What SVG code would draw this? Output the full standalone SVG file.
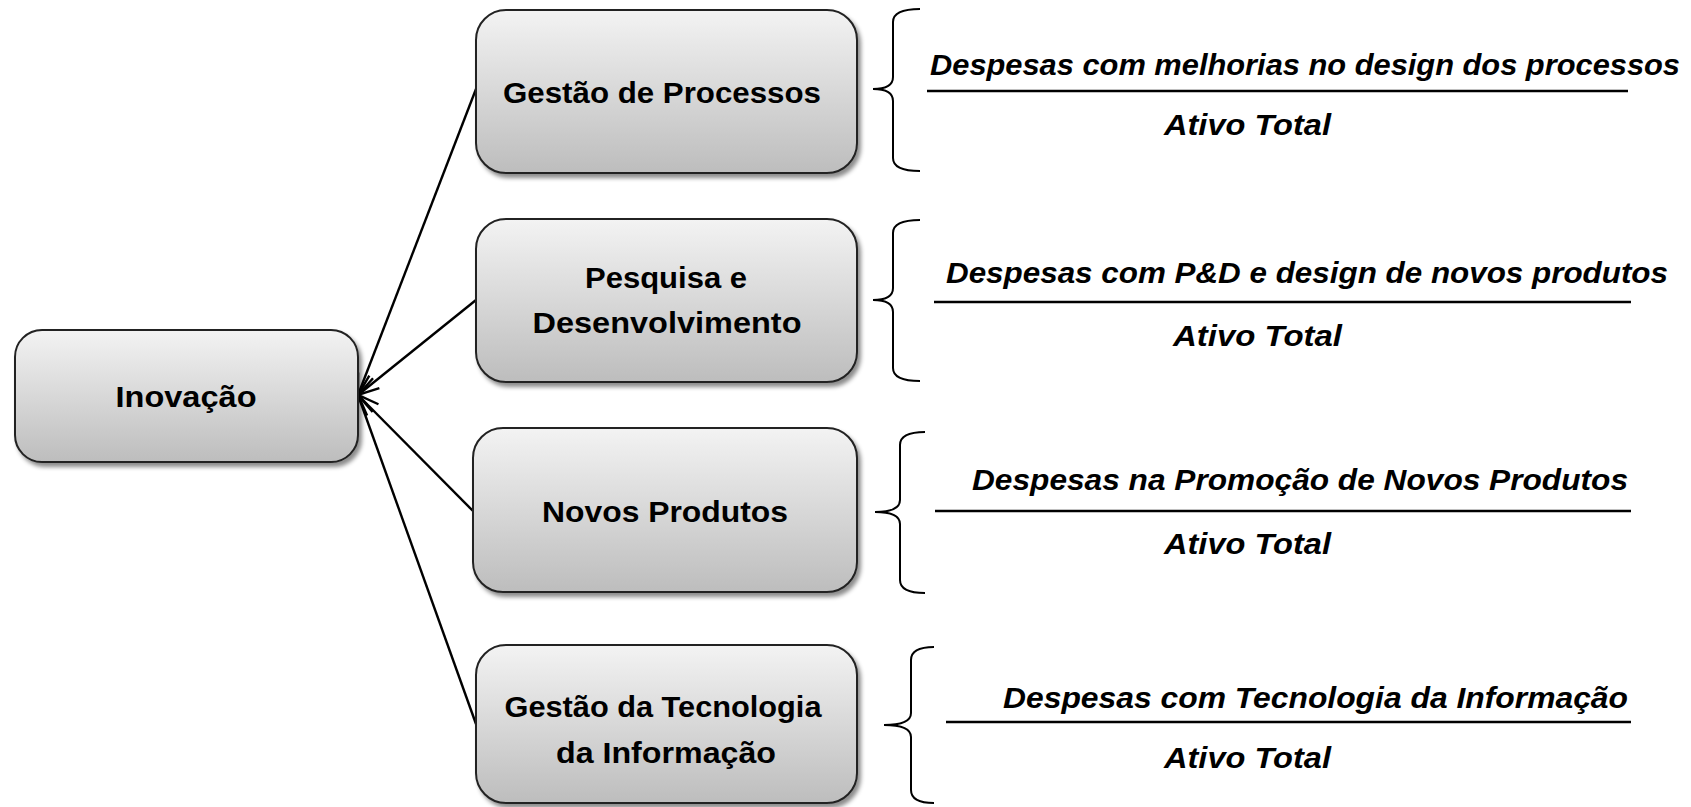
<svg xmlns="http://www.w3.org/2000/svg" width="1691" height="807" viewBox="0 0 1691 807">
<style>
.box{fill:url(#g);stroke:#222;stroke-width:2;filter:url(#sh)}
.lbl{font-family:"Liberation Sans",Arial,sans-serif;font-weight:bold;font-size:29px;fill:#000;text-anchor:middle}
.frac{font-family:"Liberation Sans",Arial,sans-serif;font-weight:bold;font-style:italic;font-size:30px;fill:#000}
.conn{stroke:#000;stroke-width:2.4;fill:none;marker-end:url(#arr)}
.brace{stroke:#000;stroke-width:2;fill:none}
.bar{stroke:#000;stroke-width:2.5}
</style>
<defs>
<linearGradient id="g" x1="0" y1="0" x2="0" y2="1">
<stop offset="0" stop-color="#f3f3f3"/>
<stop offset="1" stop-color="#bdbdbd"/>
</linearGradient>
<filter id="sh" x="-10%" y="-10%" width="120%" height="130%">
<feDropShadow dx="3" dy="4" stdDeviation="2" flood-color="#000" flood-opacity="0.45"/>
</filter>
<marker id="arr" markerUnits="userSpaceOnUse" markerWidth="26" markerHeight="22" refX="23" refY="11" orient="auto">
<path d="M2,3 L23,11 L2,19" fill="none" stroke="#000" stroke-width="2.4"/>
</marker>
</defs>
<rect width="1691" height="807" fill="#fff"/>
<g id="connectors">
<line class="conn" x1="476" y1="89" x2="358" y2="395"/>
<line class="conn" x1="476" y1="300" x2="358" y2="395"/>
<line class="conn" x1="473" y1="511" x2="358" y2="395"/>
<line class="conn" x1="476" y1="724" x2="358" y2="395"/>
</g>
<g id="inovacao">
<rect class="box" x="15" y="330" width="343" height="132" rx="27"/>
<text class="lbl" x="186" y="407" textLength="141" lengthAdjust="spacingAndGlyphs">Inovação</text>
</g>
<g id="gestao-processos">
<rect class="box" x="476" y="10" width="381" height="163" rx="30"/>
<text class="lbl" x="662" y="103" textLength="318" lengthAdjust="spacingAndGlyphs">Gestão de Processos</text>
</g>
<g id="pesquisa">
<rect class="box" x="476" y="219" width="381" height="163" rx="30"/>
<text class="lbl" x="666" y="288" textLength="162" lengthAdjust="spacingAndGlyphs">Pesquisa e</text>
<text class="lbl" x="667" y="333" textLength="269" lengthAdjust="spacingAndGlyphs">Desenvolvimento</text>
</g>
<g id="novos-produtos">
<rect class="box" x="473" y="428" width="384" height="164" rx="30"/>
<text class="lbl" x="665" y="522" textLength="246" lengthAdjust="spacingAndGlyphs">Novos Produtos</text>
</g>
<g id="gestao-ti">
<rect class="box" x="476" y="645" width="381" height="158" rx="30"/>
<text class="lbl" x="663" y="717" textLength="317" lengthAdjust="spacingAndGlyphs">Gestão da Tecnologia</text>
<text class="lbl" x="666" y="763" textLength="220" lengthAdjust="spacingAndGlyphs">da Informação</text>
</g>
<g id="formula-1">
<path class="brace" d="M920,9 Q893,9 893,22 L893,77 Q893,89 873,89 Q893,89 893,101 L893,158 Q893,171 920,171"/>
<text class="frac" x="930" y="75" textLength="750" lengthAdjust="spacingAndGlyphs">Despesas com melhorias no design dos processos</text>
<line class="bar" x1="927" y1="91" x2="1628" y2="91"/>
<text class="frac" x="1164" y="135" textLength="167" lengthAdjust="spacingAndGlyphs">Ativo Total</text>
</g>
<g id="formula-2">
<path class="brace" d="M920,220 Q893,220 893,233 L893,288 Q893,300 873,300 Q893,300 893,312 L893,368 Q893,381 920,381"/>
<text class="frac" x="946" y="283" textLength="722" lengthAdjust="spacingAndGlyphs">Despesas com P&amp;D e design de novos produtos</text>
<line class="bar" x1="934" y1="302" x2="1631" y2="302"/>
<text class="frac" x="1173" y="346" textLength="169" lengthAdjust="spacingAndGlyphs">Ativo Total</text>
</g>
<g id="formula-3">
<path class="brace" d="M925,432 Q900,432 900,445 L900,500 Q900,512 875,512 Q900,512 900,524 L900,580 Q900,593 925,593"/>
<text class="frac" x="972" y="490" textLength="656" lengthAdjust="spacingAndGlyphs">Despesas na Promoção de Novos Produtos</text>
<line class="bar" x1="935" y1="511" x2="1631" y2="511"/>
<text class="frac" x="1164" y="554" textLength="167" lengthAdjust="spacingAndGlyphs">Ativo Total</text>
</g>
<g id="formula-4">
<path class="brace" d="M934,647 Q911,647 911,660 L911,713 Q911,725 884,725 Q911,725 911,737 L911,790 Q911,803 934,803"/>
<text class="frac" x="1003" y="708" textLength="625" lengthAdjust="spacingAndGlyphs">Despesas com Tecnologia da Informação</text>
<line class="bar" x1="946" y1="722" x2="1631" y2="722"/>
<text class="frac" x="1164" y="768" textLength="167" lengthAdjust="spacingAndGlyphs">Ativo Total</text>
</g>
</svg>
